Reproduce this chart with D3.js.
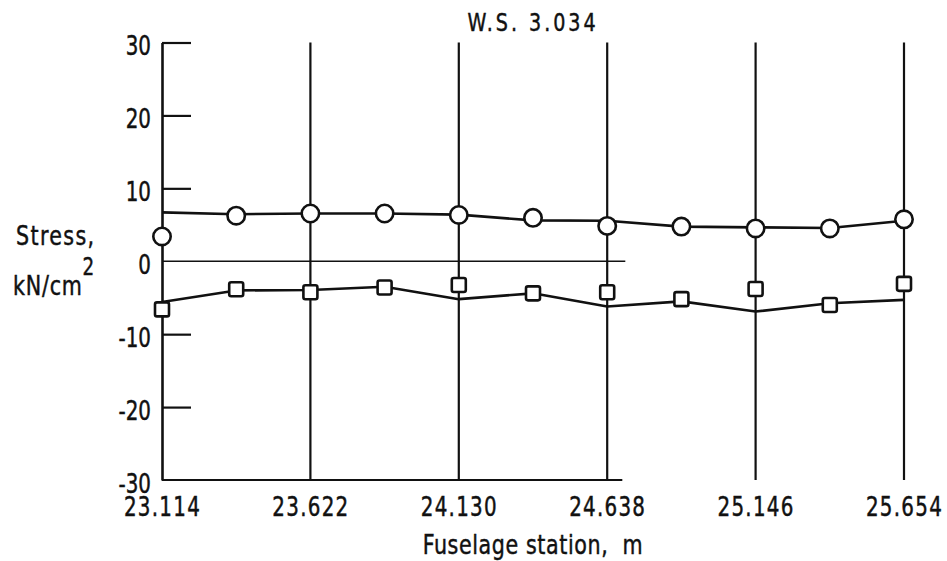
<!DOCTYPE html>
<html>
<head>
<meta charset="utf-8">
<script src="https://cdn.jsdelivr.net/npm/d3@7"></script>
<style>
  html, body { margin: 0; padding: 0; background: #fff; }
  svg { display: block; }
  text { font-family: "DejaVu Sans Condensed", "DejaVu Sans", sans-serif; fill: #111; stroke: #111; stroke-width: 0.45px; }
</style>
</head>
<body>
<svg id="chart" width="947" height="561"></svg>
<script>
// ---- data ----
const stations = [23.114, 23.368, 23.622, 23.876, 24.130, 24.384, 24.638, 24.892, 25.146, 25.400, 25.654];
const circleData = [3.4, 6.25, 6.55, 6.55, 6.35, 5.95, 4.85, 4.75, 4.5, 4.5, 5.75];
const circleFair = [6.7, 6.45, 6.55, 6.55, 6.4, 5.6, 5.55, 4.75, 4.65, 4.55, 5.55];
const squareData = [-6.6, -3.85, -4.25, -3.6, -3.25, -4.4, -4.25, -5.2, -3.8, -6.0, -3.1];
const squareFair = [-5.6, -4.0, -3.95, -3.5, -5.2, -4.4, -6.2, -5.5, -6.9, -5.75, -5.3];
const xTicks = [23.114, 23.622, 24.130, 24.638, 25.146, 25.654];
const xTickLabels = ["23.114", "23.622", "24.130", "24.638", "25.146", "25.654"];
const yTicks = [-30, -20, -10, 0, 10, 20, 30];
const yTickLabels = ["-30", "-20", "-10", "0", "10", "20", "30"];
const title = "W.S. 3.034";
const xTitle = "Fuselage station,  m";
const yTitle1 = "Stress,";
const yTitle2 = "kN/cm";
const baseLineEnd = 24.70;

// ---- scales ----
const svg = d3.select("#chart");
const x = d3.scaleLinear().domain([23.114, 25.654]).range([162, 904]);
const y = d3.scaleLinear().domain([-30, 30]).range([480, 42.5]);
const ink = "#111";
const SX = 0.85;

// horizontally compress text around its anchor x
function squeeze(sel, sx) {
  sel.each(function () {
    const t = d3.select(this);
    const ax = +t.attr("x") || 0;
    t.attr("transform", `translate(${ax},0) scale(${sx},1) translate(${-ax},0)`);
  });
}

// vertical grid lines at labelled stations
svg.append("g").selectAll("line").data(xTicks.slice(1)).join("line")
  .attr("x1", d => x(d)).attr("x2", d => x(d))
  .attr("y1", y(30)).attr("y2", y(-30))
  .attr("stroke", ink).attr("stroke-width", 2.2);

// zero line and bottom line (partial)
svg.append("line").attr("x1", x(23.114)).attr("x2", x(baseLineEnd))
  .attr("y1", y(0)).attr("y2", y(0)).attr("stroke", ink).attr("stroke-width", 1.5);
svg.append("line").attr("x1", x(23.114)).attr("x2", x(baseLineEnd) - 3)
  .attr("y1", y(-30)).attr("y2", y(-30)).attr("stroke", ink).attr("stroke-width", 2.2);

// y axis
const yAxis = d3.axisLeft(y).tickValues(yTicks)
  .tickFormat((d, i) => yTickLabels[i]).tickSizeInner(-29).tickSizeOuter(0).tickPadding(11);
const gy = svg.append("g").attr("transform", `translate(${x(23.114)},0)`).call(yAxis);
gy.select(".domain").attr("stroke", ink).attr("stroke-width", 2.6);
gy.selectAll(".tick line").attr("stroke", ink).attr("stroke-width", 2.2)
  .attr("display", d => (d === 0 || d === -30) ? "none" : null);
gy.selectAll(".tick text").attr("font-size", 26).attr("dy", "0.48em").attr("fill", ink)
  .call(squeeze, SX);

// x axis labels
const xAxis = d3.axisBottom(x).tickValues(xTicks)
  .tickFormat((d, i) => xTickLabels[i]).tickSize(0).tickPadding(18);
const gx = svg.append("g").attr("transform", `translate(0,${y(-30)})`).call(xAxis);
gx.select(".domain").remove();
gx.selectAll(".tick text").attr("font-size", 26).attr("dy", "0.71em")
  .style("letter-spacing", "1.5px").attr("fill", ink)
  .call(squeeze, SX);

// fairing lines
const line = d3.line().x((d, i) => x(stations[i])).y(d => y(d));
svg.append("path").attr("d", line(circleFair)).attr("fill", "none")
  .attr("stroke", ink).attr("stroke-width", 2.6).attr("stroke-linejoin", "round");
svg.append("path").attr("d", line(squareFair)).attr("fill", "none")
  .attr("stroke", ink).attr("stroke-width", 2.6).attr("stroke-linejoin", "round");

// markers
svg.append("g").selectAll("circle").data(circleData).join("circle")
  .attr("cx", (d, i) => x(stations[i])).attr("cy", d => y(d)).attr("r", 8.7)
  .attr("fill", "#fff").attr("stroke", ink).attr("stroke-width", 2.6);
const s = 14;
svg.append("g").selectAll("rect").data(squareData).join("rect")
  .attr("x", (d, i) => x(stations[i]) - s / 2).attr("y", d => y(d) - s / 2)
  .attr("width", s).attr("height", s).attr("rx", 2)
  .attr("fill", "#fff").attr("stroke", ink).attr("stroke-width", 2.6);

// titles
svg.append("text").attr("x", 533).attr("y", 31).attr("text-anchor", "middle")
  .attr("font-size", 25).style("letter-spacing", "3.5px").text(title).call(squeeze, SX);
svg.append("text").attr("x", 533).attr("y", 554).attr("text-anchor", "middle")
  .attr("font-size", 27).style("white-space", "pre").style("letter-spacing", "0.7px")
  .text(xTitle).call(squeeze, SX);
svg.append("text").attr("x", 16).attr("y", 245).attr("font-size", 27)
  .style("letter-spacing", "1.6px").text(yTitle1).call(squeeze, SX);
const t2 = svg.append("text").attr("x", 13).attr("y", 295).attr("font-size", 27)
  .style("letter-spacing", "0.9px");
t2.append("tspan").text(yTitle2);
t2.append("tspan").attr("dy", -20).attr("font-size", 24).text("2");
t2.call(squeeze, SX);
</script>
</body>
</html>
